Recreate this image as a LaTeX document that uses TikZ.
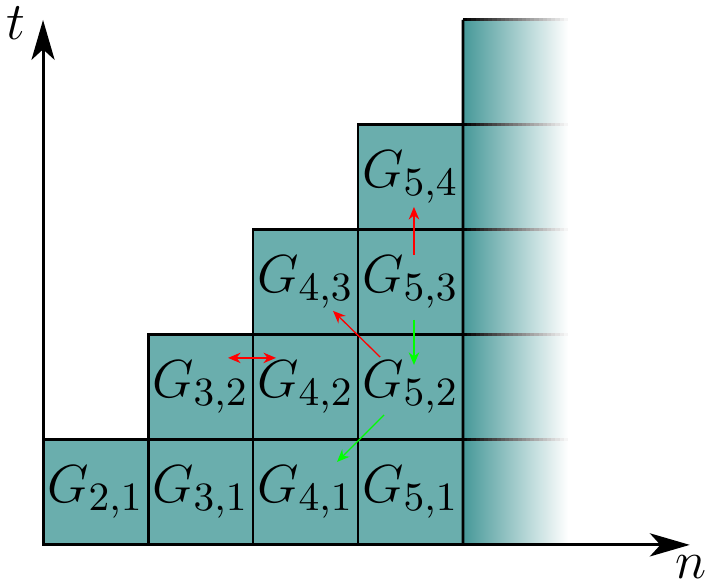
\documentclass[tikz,border=0pt]{standalone}
\usepackage{graphicx}
\usetikzlibrary{arrows.meta}
\definecolor{celda}{RGB}{106,174,173}
\definecolor{celdaosc}{RGB}{70,152,152}
\newcommand{\Gcas}[2]{\scalebox{1.21}{$G_{\mbox{\small$#1{,}#2$}}$}}
\begin{document}
\begin{tikzpicture}[
            casilla/.style={fill=celda, minimum size=1cm, inner sep=0pt, outer sep=0pt, font=\large},
            borde/.style={draw=black, line width=0.8pt},
            eje/.style={line width=0.8pt, -{Stealth[length=0.38cm, width=0.22cm, inset=0.1cm]}},
            flecharoja/.style={red, line width=0.35pt, -{Stealth[length=0.12cm, width=0.1cm]}},
            flechaverde/.style={green, line width=0.35pt, -{Stealth[length=0.12cm, width=0.1cm]}}
        ]
        \useasboundingbox (-0.41, -0.362) rectangle (6.324, 5.19);

        % --- COLUMNA SOMBREADA ---
        \shade[left color=celdaosc, right color=white] (4, 0) rectangle (5, 5);
        \foreach \j in {1,...,5} {
            \foreach \k in {0,...,24} {
                \pgfmathsetmacro{\tono}{100-4*\k}
                \draw[black!\tono!white, line width=0.8pt] (4+\k/25, \j) -- (4+\k/25+0.041, \j);
            }
        }

        % --- CASILLAS ---
        \node[casilla] (G21) at (0.5, 0.5) {\Gcas{2}{1}};
        \node[casilla] (G31) at (1.5, 0.5) {\Gcas{3}{1}};
        \node[casilla] (G41) at (2.5, 0.5) {\Gcas{4}{1}};
        \node[casilla] (G51) at (3.5, 0.5) {\Gcas{5}{1}};
        \node[casilla] (G32) at (1.5, 1.5) {\Gcas{3}{2}};
        \node[casilla] (G42) at (2.5, 1.5) {\Gcas{4}{2}};
        \node[casilla] (G52) at (3.5, 1.5) {\Gcas{5}{2}};
        \node[casilla] (G43) at (2.5, 2.5) {\Gcas{4}{3}};
        \node[casilla] (G53) at (3.5, 2.5) {\Gcas{5}{3}};
        \node[casilla] (G54) at (3.5, 3.5) {\Gcas{5}{4}};

        \foreach \c in {G21,G31,G41,G51,G32,G42,G52,G43,G53,G54} {
            \draw[borde] (\c.south west) rectangle (\c.north east);
        }
        \draw[borde] (G51.south east) -- (0+4, 5);

        % --- EJES ---
        \coordinate (O) at (0, 0);
        \coordinate (tmax) at (0, 5.0);
        \coordinate (nmax) at (6.16, 0);
        \draw[eje] (O) -- (tmax);
        \draw[eje] (O) -- (nmax);
        \node[font=\Large] (t) at (-0.26, 4.97) {$t$};
        \node[font=\Large] (n) at (6.17, -0.21) {$n$};

        % --- FLECHAS ---
        \coordinate (a1) at (3.533, 2.762);
        \coordinate (b1) at (3.533, 3.219);
        \coordinate (a2) at (3.533, 2.143);
        \coordinate (b2) at (3.533, 1.714);
        \coordinate (a3) at (3.21, 1.79);
        \coordinate (b3) at (2.762, 2.229);
        \coordinate (a4) at (3.248, 1.238);
        \coordinate (b4) at (2.8, 0.79);
        \coordinate (a5) at (1.762, 1.781);
        \coordinate (b5) at (2.219, 1.781);

        \draw[flecharoja] (a1) -- (b1);
        \draw[flechaverde] (a2) -- (b2);
        \draw[flecharoja] (a3) -- (b3);
        \draw[flechaverde] (a4) -- (b4);
        \draw[flecharoja, {Stealth[length=0.12cm, width=0.1cm]}-{Stealth[length=0.12cm, width=0.1cm]}] (a5) -- (b5);
    \end{tikzpicture}
\end{document}
